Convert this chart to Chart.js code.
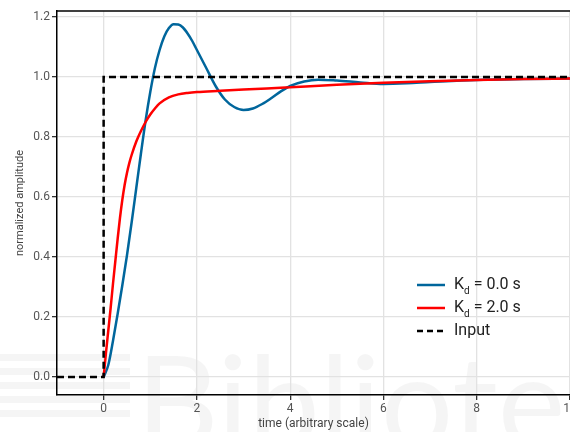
<!DOCTYPE html>
<html>
<head>
<meta charset="utf-8">
<script src="https://cdn.jsdelivr.net/npm/chart.js@4.4.1/dist/chart.umd.min.js"></script>
<style>
    html, body { margin: 0; padding: 0; overflow: hidden; background: #fff; }
</style>
</head>
<body>
<canvas id="stepChart" width="600" height="432"></canvas>
<script>
// time points + values
const timeKd0 = [0, 0.1, 0.2, 0.3, 0.4, 0.5, 0.6, 0.7, 0.8, 0.9, 1.0, 1.1, 1.2, 1.3, 1.4, 1.5, 1.6, 1.7, 1.8, 1.9, 2.0,
    2.2, 2.4, 2.6, 2.8, 3.0, 3.2, 3.4, 3.6, 3.8, 4.0, 4.3, 4.6, 5.0, 5.5, 6.0, 6.5, 7.0, 8.0, 9.0, 10.0];
const responseKd0 = [0, 0.04, 0.12, 0.21, 0.305, 0.405, 0.515, 0.63, 0.745, 0.855, 0.95, 1.03, 1.09, 1.135, 1.163, 1.176, 1.175, 1.165, 1.145, 1.12, 1.09,
    1.03, 0.97, 0.925, 0.9, 0.89, 0.895, 0.91, 0.93, 0.952, 0.97, 0.985, 0.991, 0.988, 0.982, 0.977, 0.979, 0.983, 0.99, 0.993, 0.995];

const timeKd2 = [0, 0.05, 0.1, 0.15, 0.2, 0.25, 0.3, 0.35, 0.4, 0.45, 0.5, 0.55, 0.6, 0.7, 0.8, 0.9, 1.0, 1.1, 1.2, 1.4, 1.6, 1.8, 2.0,
    2.5, 3.0, 3.5, 4.0, 5.0, 6.0, 7.0, 8.0, 9.0, 10.0];
const responseKd2 = [0, 0.08, 0.155, 0.23, 0.31, 0.385, 0.46, 0.53, 0.59, 0.64, 0.68, 0.713, 0.74, 0.785, 0.82, 0.85, 0.875, 0.895, 0.912, 0.932, 0.942, 0.947, 0.95,
    0.954, 0.958, 0.962, 0.966, 0.974, 0.981, 0.986, 0.99, 0.993, 0.995];

const inputTime = [-1, 0, 0, 10];
const inputValues = [0, 0, 1, 1];

const xTicks = [0, 2, 4, 6, 8, 10];
const yTicks = [0, 0.2, 0.4, 0.6, 0.8, 1.0, 1.2];

const legendLabels = [
    { main: "K", sub: "d", rest: " = 0.0 s", color: "#00669c", dash: [] },
    { main: "K", sub: "d", rest: " = 2.0 s", color: "#ff0000", dash: [] },
    { main: "Input", sub: "", rest: "", color: "#000000", dash: [6, 4] }
];

const toPoints = (xs, ys) => xs.map((x, i) => ({ x: x, y: ys[i] }));

const watermark = {
    id: "watermark",
    beforeDraw(chart) {
        const ctx = chart.ctx;
        ctx.save();
        ctx.fillStyle = "rgba(0,0,0,0.04)";
        [354, 368, 382, 396, 410].forEach(y => ctx.fillRect(0, y, 130, 7));
        ctx.font = "400 128px Lato";
        ctx.textBaseline = "alphabetic";
        ctx.fillText("Bibliotek", 136, 448);
        ctx.restore();
    }
};

const frameAndLegend = {
    id: "frameAndLegend",
    afterDraw(chart) {
        const ctx = chart.ctx;
        const area = chart.chartArea;
        ctx.save();
        // top spine
        ctx.strokeStyle = "#000";
        ctx.lineWidth = 1.5;
        ctx.beginPath();
        ctx.moveTo(area.left, area.top);
        ctx.lineTo(area.right, area.top);
        ctx.stroke();

        // legend
        let y = 285;
        legendLabels.forEach(item => {
            ctx.strokeStyle = item.color;
            ctx.lineWidth = 2.5;
            ctx.setLineDash(item.dash);
            ctx.beginPath();
            ctx.moveTo(417, y);
            ctx.lineTo(445, y);
            ctx.stroke();
            ctx.setLineDash([]);

            ctx.fillStyle = "#222";
            ctx.textBaseline = "middle";
            ctx.font = "16px Roboto";
            let x = 454;
            ctx.fillText(item.main, x, y);
            x += ctx.measureText(item.main).width;
            if (item.sub) {
                ctx.font = "10px Roboto";
                ctx.fillText(item.sub, x, y + 6);
                x += ctx.measureText(item.sub).width;
                ctx.font = "16px Roboto";
            }
            ctx.fillText(item.rest, x, y);
            y += 23;
        });
        ctx.restore();
    }
};

new Chart(document.getElementById("stepChart"), {
    type: "line",
    data: {
        datasets: [
            {
                label: "Kd = 0.0 s",
                data: toPoints(timeKd0, responseKd0),
                borderColor: "#00669c",
                borderWidth: 2.5,
                pointRadius: 0,
                cubicInterpolationMode: "monotone",
                order: 2
            },
            {
                label: "Kd = 2.0 s",
                data: toPoints(timeKd2, responseKd2),
                borderColor: "#ff0000",
                borderWidth: 2.5,
                pointRadius: 0,
                cubicInterpolationMode: "monotone",
                order: 1
            },
            {
                label: "Input",
                data: toPoints(inputTime, inputValues),
                borderColor: "#000000",
                borderWidth: 2.5,
                borderDash: [7, 4],
                pointRadius: 0,
                tension: 0,
                order: 0
            }
        ]
    },
    options: {
        responsive: false,
        animation: false,
        events: [],
        layout: { padding: { left: 0, top: 11, right: 30, bottom: 0 } },
        plugins: {
            legend: { display: false },
            tooltip: { enabled: false }
        },
        scales: {
            x: {
                type: "linear",
                min: -1,
                max: 10,
                afterBuildTicks: s => { s.ticks = xTicks.map(v => ({ value: v })); },
                afterFit: s => { s.height = 37; },
                grid: { color: "#e2e2e2", lineWidth: 1.3, tickLength: 5, tickColor: "#333" },
                border: { color: "#000", width: 1.5 },
                ticks: { color: "#555", padding: 2, font: { family: "Roboto", size: 12 }, maxRotation: 0 },
                title: {
                    display: true,
                    text: "time (arbitrary scale)",
                    color: "#444",
                    font: { family: "Roboto", size: 12 },
                    padding: { top: 0, bottom: 1 }
                }
            },
            y: {
                type: "linear",
                min: -0.06,
                max: 1.22,
                afterBuildTicks: s => { s.ticks = yTicks.map(v => ({ value: v })); },
                afterFit: s => { s.width = 57; },
                grid: { color: "#e2e2e2", lineWidth: 1.3, tickLength: 5, tickColor: "#333" },
                border: { color: "#000", width: 1.5 },
                ticks: {
                    color: "#555",
                    padding: 2,
                    font: { family: "Roboto", size: 12 },
                    callback: v => v.toFixed(1)
                },
                title: {
                    display: true,
                    text: "normalized amplitude",
                    color: "#444",
                    font: { family: "Roboto", size: 11 },
                    padding: { top: 14, bottom: 0 }
                }
            }
        }
    },
    plugins: [watermark, frameAndLegend]
});
</script>
</body>
</html>
